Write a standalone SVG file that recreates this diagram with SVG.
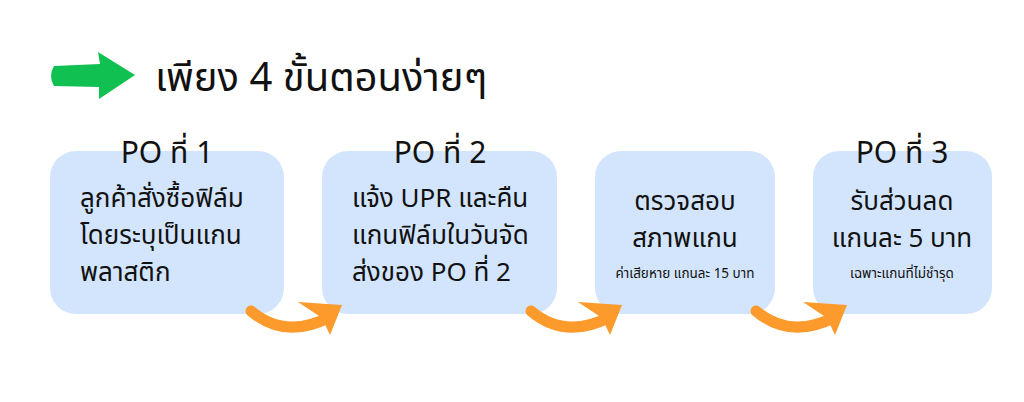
<svg xmlns="http://www.w3.org/2000/svg" width="1024" height="402" viewBox="0 0 1024 402">
<style>
text{font-family:"Noto Sans","Noto Sans Thai","DejaVu Sans",sans-serif;fill:#111}
.box{fill:#d3e5fd}
.t{font-size:30px}
.b{font-size:26px}
.s{font-size:13.5px}
.c{text-anchor:middle}
.arc{fill:none;stroke:#fd9a2c;stroke-width:11;stroke-linecap:round}
.head{fill:#fd9a2c}
</style>
<rect width="1024" height="402" fill="#fff"/>
<g id="title">
<path d="M54 66 L100 64 L98 52 L135 75 L99 99 L99 87 L54 86 Q48 76 54 66Z" fill="#10c050"/>
<text x="155" y="91" font-size="40">เพียง 4 ขั้นตอนง่ายๆ</text>
</g>
<g id="node1">
<rect class="box" x="50" y="151" width="234" height="163" rx="26"/>
<text class="t c" x="167" y="163">PO ที่ 1</text>
<text class="b" x="80" y="207">ลูกค้าสั่งซื้อฟิล์ม</text>
<text class="b" x="80" y="244">โดยระบุเป็นแกน</text>
<text class="b" x="80" y="281">พลาสติก</text>
</g>
<g id="node2">
<rect class="box" x="322" y="151" width="235" height="163" rx="26"/>
<text class="t c" x="440" y="163">PO ที่ 2</text>
<text class="b" x="352" y="207">แจ้ง UPR และคืน</text>
<text class="b" x="352" y="244">แกนฟิล์มในวันจัด</text>
<text class="b" x="352" y="281">ส่งของ PO ที่ 2</text>
</g>
<g id="node3">
<rect class="box" x="595" y="151" width="180" height="163" rx="26"/>
<text class="b c" x="685" y="210">ตรวจสอบ</text>
<text class="b c" x="685" y="247">สภาพแกน</text>
<text class="s c" x="685" y="278">ค่าเสียหาย แกนละ 15 บาท</text>
</g>
<g id="node4">
<rect class="box" x="813" y="151" width="179" height="163" rx="26"/>
<text class="t c" x="902" y="163">PO ที่ 3</text>
<text class="b c" x="902" y="210">รับส่วนลด</text>
<text class="b c" x="902" y="247">แกนละ 5 บาท</text>
<text class="s c" x="902" y="278">เฉพาะแกนที่ไม่ชำรุด</text>
</g>
<g id="connectors">
<path class="arc" d="M251 311 Q285 340 330 317"/>
<polygon class="head" points="298,302 342,305 330,335 322,318"/>
<path class="arc" d="M531 311 Q565 340 610 317"/>
<polygon class="head" points="578,302 622,305 610,335 602,318"/>
<path class="arc" d="M756 311 Q790 340 835 317"/>
<polygon class="head" points="803,302 847,305 835,335 827,318"/>
</g>
</svg>
